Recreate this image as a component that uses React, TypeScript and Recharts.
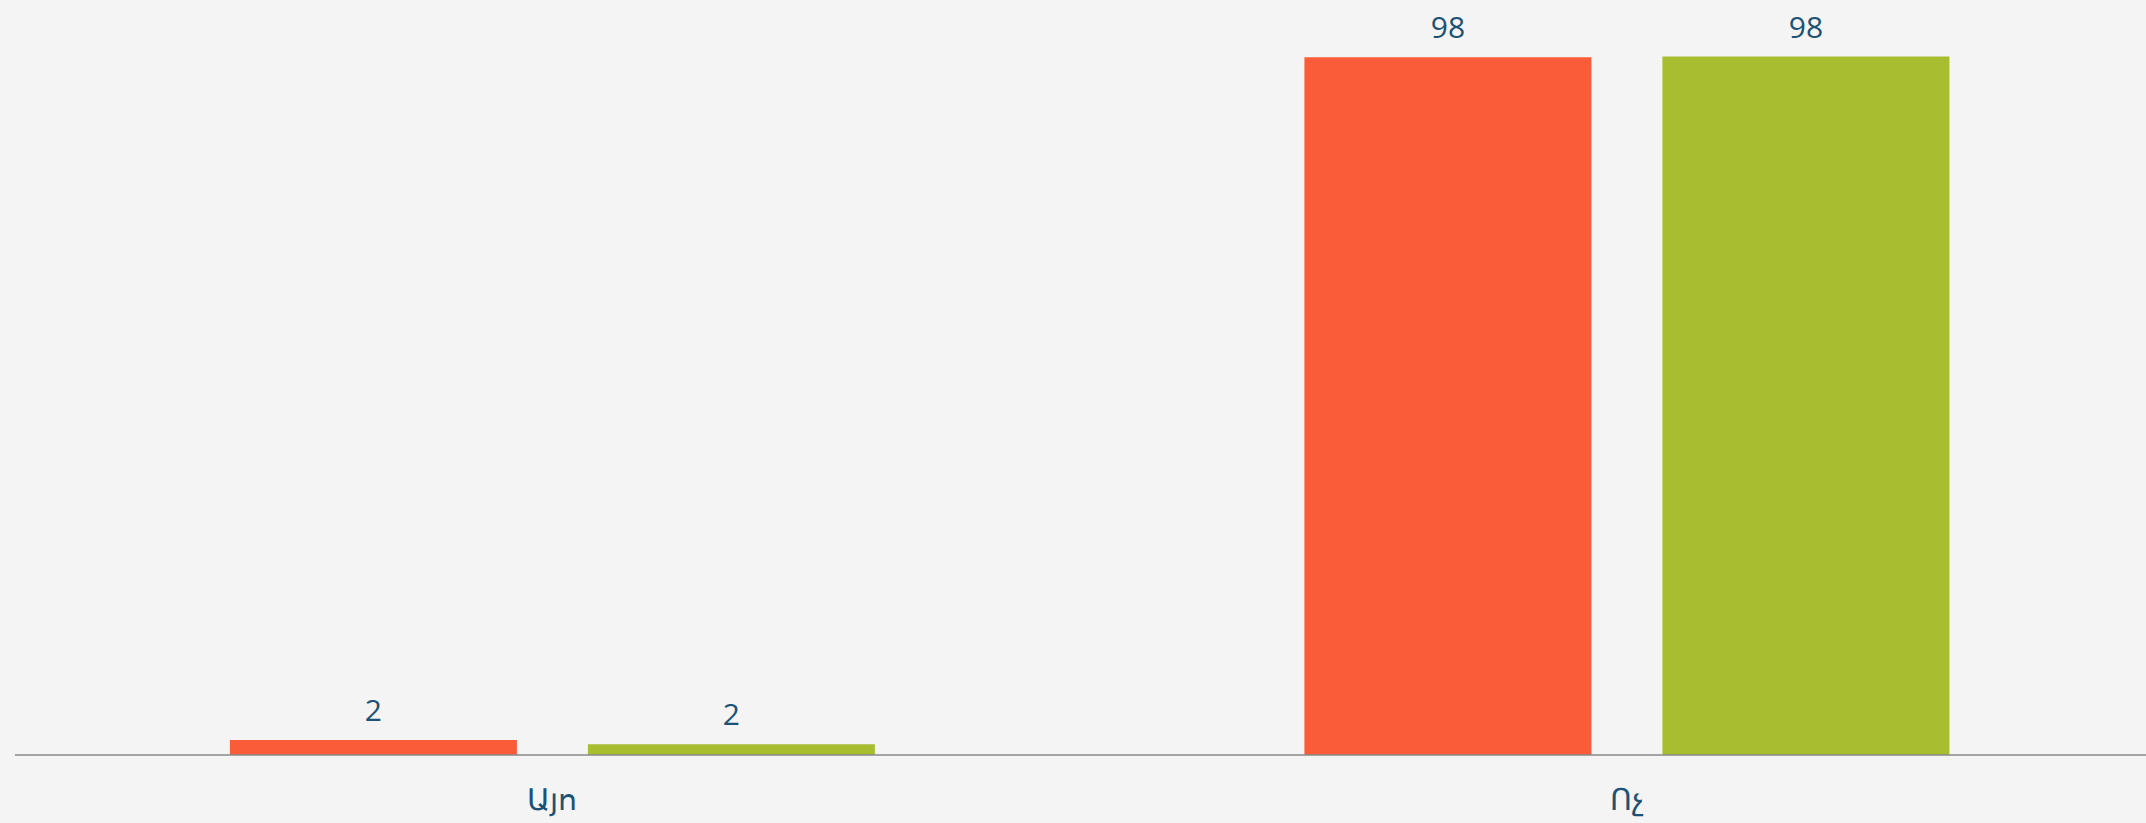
import React from "react";
import { BarChart, Bar, XAxis, YAxis, LabelList } from "recharts";

const categories = ["Այո", "Ոչ"];
const redValues = [2.1, 98];
const greenValues = [1.5, 98.1];

const RED = "#FA5C39";
const GREEN = "#A8BE30";
const TEXT = "#1B5275";

const data = categories.map((name, i) => ({
  name,
  red: redValues[i],
  green: greenValues[i],
}));

const fmt = (v: number) => Math.round(v).toString();

export default function App() {
  return (
    <div style={{ width: 2146, height: 823, overflow: "hidden", background: "#F4F4F4" }}>
      <style>{`body{margin:0;background:#F4F4F4}`}</style>
      <BarChart
        width={2164}
        height={823}
        data={data}
        margin={{ top: 43, right: 0, bottom: 0, left: 15 }}
        barCategoryGap="20%"
        barGap={71}
      >
        <XAxis
          dataKey="name"
          height={68}
          tickLine={false}
          tickSize={0}
          tickMargin={34}
          axisLine={{ stroke: "#8A8A8A", strokeWidth: 1.5 }}
          tick={{ fill: TEXT, fontSize: 30, fontFamily: "Open Sans" }}
        />
        <YAxis hide domain={[0, 100]} />
        <Bar dataKey="red" fill={RED} isAnimationActive={false}>
          <LabelList
            dataKey="red"
            position="top"
            offset={19}
            formatter={fmt}
            style={{ fill: TEXT, fontSize: 30, fontFamily: "Open Sans" }}
          />
        </Bar>
        <Bar dataKey="green" fill={GREEN} isAnimationActive={false}>
          <LabelList
            dataKey="green"
            position="top"
            offset={19}
            formatter={fmt}
            style={{ fill: TEXT, fontSize: 30, fontFamily: "Open Sans" }}
          />
        </Bar>
      </BarChart>
    </div>
  );
}
